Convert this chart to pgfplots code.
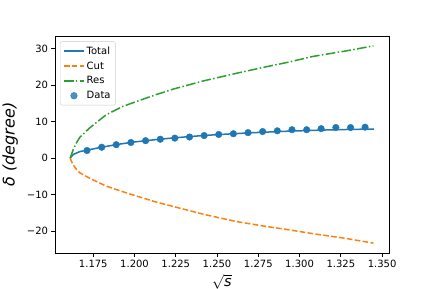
\documentclass[border=0pt]{standalone}
\usepackage{pgfplots}
\pgfplotsset{compat=1.18}
\usepackage{fontspec}
\setmainfont{DejaVu Sans}
\definecolor{tabblue}{HTML}{1F77B4}
\definecolor{taborange}{HTML}{FF7F0E}
\definecolor{tabgreen}{HTML}{2CA02C}
\begin{document}
\begin{tikzpicture}
\useasboundingbox (-55bp,-36bp) rectangle (377bp,253bp);
\begin{axis}[
  at={(0,0)}, anchor=south west,
  scale only axis, width=334bp, height=217bp,
  xmin=1.1518, xmax=1.3542, ymin=-26.0, ymax=33.5,
  axis line style={line width=0.8bp},
  tick align=outside, xtick pos=bottom, ytick pos=left,
  major tick length=3.5bp,
  tick style={line width=0.8bp, black},
  xtick={1.175,1.2,1.225,1.25,1.275,1.3,1.325,1.35},
  xticklabels={1.175,1.200,1.225,1.250,1.275,1.300,1.325,1.350},
  ytick={-20,-10,0,10,20,30},
  yticklabels={−20,−10,0,10,20,30},
  ticklabel style={font=\fontsize{10bp}{12bp}\selectfont},
  xlabel={$\sqrt{\hbox{\itshape s}}$},
  xlabel style={font=\fontsize{14.5bp}{16bp}\selectfont, at={(axis description cs:0.5,0)}, anchor=north, yshift=-21.5bp, inner sep=0pt},
  ylabel={\itshape δ (degree)},
  ylabel style={font=\fontsize{16bp}{18bp}\selectfont, yshift=2bp},
  legend style={at={(0.015,0.975)}, anchor=north west, font=\fontsize{10bp}{12bp}\selectfont,
    draw=black!20, rounded corners=2bp, fill=white, fill opacity=0.8, text opacity=1,
    row sep=2bp, inner sep=3bp},
  legend cell align=left,
  legend image code/.code={\draw[mark repeat=2,mark phase=2,#1] plot coordinates {(0bp,0bp) (10bp,0bp) (20bp,0bp)};},
]
\addplot[tabblue, line width=1.5bp] coordinates {
(1.161,0) (1.1628,1.0) (1.1668,1.8) (1.1712,2.2) (1.180,3.0) (1.190,3.8) (1.200,4.45)
(1.210,4.95) (1.220,5.4) (1.230,5.8) (1.240,6.15) (1.250,6.45) (1.260,6.7) (1.270,6.95)
(1.280,7.15) (1.290,7.35) (1.300,7.5) (1.310,7.65) (1.320,7.78) (1.330,7.88) (1.345,8.0)
};
\addlegendentry{Total}
\addplot[taborange, line width=1.5bp, dash pattern=on 5.55bp off 2.4bp] coordinates {
(1.161,0) (1.1625,-1.6) (1.1645,-2.9) (1.1668,-4.0) (1.1728,-5.5) (1.1828,-7.65)
(1.1929,-9.2) (1.2028,-10.6) (1.2129,-12.0) (1.2239,-13.3) (1.2419,-15.4) (1.262,-17.4)
(1.2781,-18.6) (1.293,-19.6) (1.3081,-20.7) (1.3281,-22.0) (1.3448,-23.3)
};
\addlegendentry{Cut}
\addplot[tabgreen, line width=1.5bp, dash pattern=on 9.6bp off 2.4bp on 1.5bp off 2.4bp] coordinates {
(1.161,0) (1.1628,2.3) (1.1648,4.2) (1.1668,5.7) (1.1728,8.3) (1.1828,11.9) (1.1929,14.2)
(1.2028,15.8) (1.2129,17.4) (1.2239,19.0) (1.2419,21.2) (1.262,23.3) (1.2781,24.9)
(1.293,26.3) (1.3081,27.9) (1.3281,29.4) (1.3448,30.8)
};
\addlegendentry{Res}
\addplot[only marks, mark=*, mark size=3.3bp, tabblue, mark options={draw=tabblue, fill=tabblue}] coordinates {
(1.1712,2.1) (1.1801,3.0) (1.1889,3.7) (1.1978,4.3) (1.2067,4.8) (1.2156,5.2) (1.2244,5.5)
(1.2333,5.8) (1.2422,6.2) (1.2510,6.5) (1.2599,6.7) (1.2688,7.0) (1.2776,7.3) (1.2865,7.5)
(1.2954,7.8) (1.3043,7.8) (1.3131,8.1) (1.3220,8.4) (1.3309,8.4) (1.3397,8.5)
};
\addlegendentry{Data}
\end{axis}
\end{tikzpicture}
\end{document}
